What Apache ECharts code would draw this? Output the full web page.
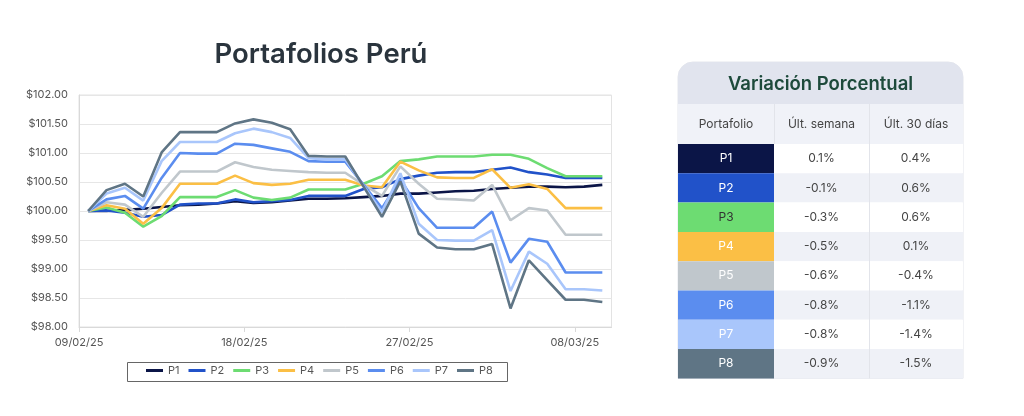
<!DOCTYPE html>
<html>
<head>
<meta charset="utf-8">
<script src="https://cdn.jsdelivr.net/npm/echarts@6/dist/echarts.min.js"></script>
<style>
html,body{margin:0;padding:0;background:#fff;}
#c{width:1024px;height:416px;}
</style>
</head>
<body>
<div id="c"></div>
<script>
const dates = ['09/02/25','10/02/25','11/02/25','12/02/25','13/02/25','14/02/25','15/02/25','16/02/25','17/02/25','18/02/25',
  '19/02/25','20/02/25','21/02/25','22/02/25','23/02/25','24/02/25','25/02/25','26/02/25','27/02/25','28/02/25',
  '01/03/25','02/03/25','03/03/25','04/03/25','05/03/25','06/03/25','07/03/25','08/03/25','09/03/25'];
const P1 = [100.00,100.00,100.02,100.04,100.07,100.10,100.11,100.13,100.17,100.14,100.15,100.18,100.21,100.21,100.22,100.24,100.26,100.30,100.30,100.32,100.34,100.35,100.38,100.40,100.42,100.42,100.41,100.42,100.45];
const P2 = [100.00,100.01,99.97,99.90,99.93,100.11,100.13,100.13,100.20,100.15,100.17,100.19,100.26,100.26,100.26,100.38,100.41,100.55,100.61,100.66,100.67,100.67,100.71,100.75,100.67,100.63,100.57,100.57,100.57];
const P3 = [100.00,100.06,99.97,99.73,99.91,100.24,100.24,100.24,100.36,100.23,100.19,100.23,100.37,100.37,100.37,100.47,100.60,100.86,100.89,100.94,100.94,100.94,100.97,100.97,100.90,100.74,100.60,100.60,100.60];
const P4 = [100.00,100.10,100.04,99.78,100.05,100.47,100.47,100.47,100.61,100.48,100.45,100.47,100.54,100.54,100.54,100.44,100.41,100.85,100.70,100.58,100.57,100.57,100.72,100.40,100.46,100.38,100.05,100.05,100.05];
const P5 = [100.00,100.15,100.11,99.90,100.31,100.68,100.68,100.68,100.84,100.76,100.71,100.69,100.67,100.66,100.66,100.45,100.26,100.77,100.47,100.21,100.20,100.18,100.45,99.84,100.05,100.01,99.59,99.59,99.59];
const P6 = [100.00,100.20,100.26,100.04,100.57,101.00,100.99,100.99,101.16,101.14,101.08,101.02,100.86,100.85,100.85,100.45,100.05,100.55,100.05,99.71,99.71,99.71,99.99,99.11,99.52,99.47,98.94,98.94,98.94];
const P7 = [100.00,100.30,100.40,100.18,100.86,101.19,101.19,101.19,101.34,101.42,101.36,101.26,100.91,100.89,100.89,100.43,99.98,100.65,99.78,99.50,99.49,99.49,99.67,98.62,99.30,99.09,98.65,98.65,98.63];
const P8 = [100.00,100.36,100.47,100.25,101.01,101.36,101.36,101.36,101.51,101.58,101.52,101.41,100.95,100.94,100.94,100.42,99.90,100.51,99.61,99.37,99.34,99.34,99.43,98.32,99.15,98.81,98.47,98.47,98.43];
const names = ['P1','P2','P3','P4','P5','P6','P7','P8'];
const seriesValues = [P1,P2,P3,P4,P5,P6,P7,P8];
const weekly = ['0.1%','-0.1%','-0.3%','-0.5%','-0.6%','-0.8%','-0.8%','-0.9%'];
const monthly = ['0.4%','0.6%','0.6%','0.1%','-0.4%','-1.1%','-1.4%','-1.5%'];
const tableTitle = 'Variación Porcentual';
const tableHeaders = ['Portafolio','Últ. semana','Últ. 30 días'];
const yTicks = [98, 102, 0.5];

const colors = ['#0b1547','#2152c9','#6ddc72','#fbbf45','#c0c7cc','#5b8def','#a9c6fb','#5f7585'];
const labelColors = ['#ffffff','#ffffff','#333333','#ffffff','#ffffff','#ffffff','#ffffff','#ffffff'];
const FONT = 'Inter, "Noto Sans", sans-serif';

// table layout
const tX = 678, colW = [96, 95, 94], hdrTop = 62, hdrH = 42, subH = 40, rowH = 29.3;
const tW = colW[0] + colW[1] + colW[2];
const g = [];
g.push({type:'rect', shape:{x:tX, y:hdrTop, width:tW, height:hdrH+subH+rowH*8, r:[15,15,0,0]},
  style:{fill:'#ffffff', stroke:'#e4e6ec', lineWidth:1}, z:1});
g.push({type:'rect', shape:{x:tX, y:hdrTop, width:tW, height:hdrH, r:[15,15,0,0]},
  style:{fill:'#e1e4ee'}, z:2});
g.push({type:'text', style:{text:tableTitle, x:tX+tW/2, y:hdrTop+hdrH/2+1, align:'center', verticalAlign:'middle',
  font:'600 18.5px '+FONT, fill:'#1d4a3b'}, z:5});
const subTop = hdrTop + hdrH;
g.push({type:'rect', shape:{x:tX, y:subTop, width:tW, height:subH}, style:{fill:'#f0f2f8'}, z:2});
let cx = tX;
tableHeaders.forEach((h, j) => {
  g.push({type:'text', style:{text:h, x:cx+colW[j]/2, y:subTop+subH/2, align:'center', verticalAlign:'middle',
    font:'400 12px '+FONT, fill:'#444'}, z:5});
  cx += colW[j];
});
names.forEach((n, i) => {
  const y = subTop + subH + i*rowH;
  g.push({type:'rect', shape:{x:tX+colW[0], y:y, width:colW[1]+colW[2], height:rowH},
    style:{fill: i%2===0 ? '#ffffff' : '#eff1f7'}, z:2});
  g.push({type:'rect', shape:{x:tX, y:y, width:colW[0], height:rowH}, style:{fill:colors[i]}, z:3});
  g.push({type:'text', style:{text:n, x:tX+colW[0]/2, y:y+rowH/2, align:'center', verticalAlign:'middle',
    font:'400 12px '+FONT, fill:labelColors[i]}, z:5});
  g.push({type:'text', style:{text:weekly[i], x:tX+colW[0]+colW[1]/2, y:y+rowH/2, align:'center', verticalAlign:'middle',
    font:'400 12px '+FONT, fill:'#444'}, z:5});
  g.push({type:'text', style:{text:monthly[i], x:tX+colW[0]+colW[1]+colW[2]/2, y:y+rowH/2, align:'center', verticalAlign:'middle',
    font:'400 12px '+FONT, fill:'#444'}, z:5});
});
// vertical separators
g.push({type:'line', shape:{x1:tX+colW[0]+colW[1]+0.5, y1:subTop, x2:tX+colW[0]+colW[1]+0.5, y2:subTop+subH+rowH*8},
  style:{stroke:'#e2e4ea', lineWidth:1}, z:4});
g.push({type:'line', shape:{x1:tX+colW[0]+0.5, y1:subTop, x2:tX+colW[0]+0.5, y2:subTop+subH},
  style:{stroke:'#e2e4ea', lineWidth:1}, z:4});
// legend box
g.push({type:'rect', shape:{x:127.5, y:362.5, width:380, height:19}, style:{fill:'none', stroke:'#666', lineWidth:1}, z:1});

const chart = echarts.init(document.getElementById('c'), null, {renderer:'canvas'});
chart.setOption({
  backgroundColor:'#ffffff',
  animation:false,
  color: colors,
  title:{text:'Portafolios Perú', left:316, top:36, textAlign:'center',
    textStyle:{fontFamily:FONT, fontSize:27.5, fontWeight:600, color:'#2a343d'}},
  grid:{left:79, right:412.5, top:95, bottom:89, show:true, borderColor:'#e3e3e3', borderWidth:1},
  legend:{data:names, left:146, top:365, padding:0, icon:'rect', itemWidth:17, itemHeight:3, itemGap:9,
    textStyle:{fontFamily:FONT, fontSize:11, color:'#555'}},
  xAxis:[
    {type:'category', data:dates, boundaryGap:true,
      axisLine:{show:true, lineStyle:{color:'#d9d9d9'}}, axisTick:{show:false}, axisLabel:{show:false}, splitLine:{show:false}},
    {type:'value', position:'bottom', min:0, max:dates.length, interval:9,
      axisLine:{show:false}, axisTick:{show:true, length:5, lineStyle:{color:'#d9d9d9'}},
      axisLabel:{showMaxLabel:false, margin:10, fontFamily:FONT, fontSize:11, color:'#555',
        formatter: v => (dates[v] !== undefined ? dates[v] : '')},
      splitLine:{show:false}}
  ],
  yAxis:{type:'value', min:yTicks[0], max:yTicks[1], interval:yTicks[2],
    axisLine:{show:true, lineStyle:{color:'#d9d9d9'}}, axisTick:{show:false},
    axisLabel:{margin:11, fontFamily:FONT, fontSize:11, color:'#555', formatter: v => '$' + v.toFixed(2)},
    splitLine:{lineStyle:{color:'#e6e6e6'}}},
  series: names.map((n, i) => ({
    name:n, type:'line', xAxisIndex:0, data:seriesValues[i], showSymbol:false, symbol:'none',
    lineStyle:{width:2.6, color:colors[i]}, itemStyle:{color:colors[i]}, z:2+i
  })),
  graphic: g
});
</script>
</body>
</html>
